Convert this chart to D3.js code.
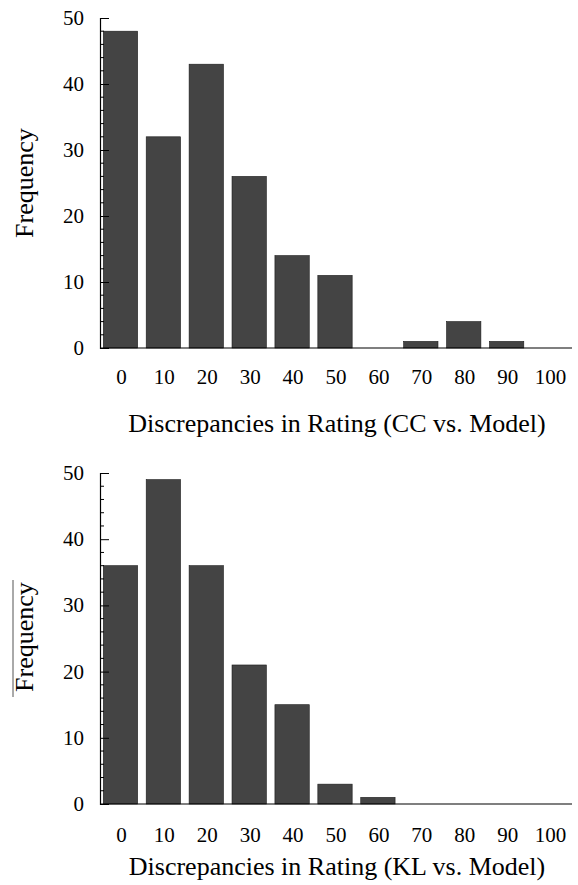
<!DOCTYPE html>
<html><head><meta charset="utf-8">
<script src="https://cdn.jsdelivr.net/npm/d3@7"></script>
<style>body{margin:0;background:#fff}svg{display:block}text{font-family:"Liberation Serif","Times New Roman",serif;fill:#000}</style>
</head><body><svg id="c" width="578" height="885"></svg>
<script>
const categories = ["0","10","20","30","40","50","60","70","80","90","100"];
const ccValues = [48,32,43,26,14,11,0,1,4,1,0];
const klValues = [36,49,36,21,15,3,1,0,0,0,0];
const yTicks = [0,10,20,30,40,50];
const titles = ["Discrepancies in Rating (CC vs. Model)","Discrepancies in Rating (KL vs. Model)"];
const yLabel = "Frequency";

const svg = d3.select("#c");
const panels = [
  {vals: ccValues, top: 18, bottom: 348, title: titles[0], tickY: 384, titleY: 432, labelY: 183, overline:false},
  {vals: klValues, top: 473, bottom: 804, title: titles[1], tickY: 842, titleY: 875, labelY: 637, overline:true}
];
const x = d3.scaleBand().domain(categories).range([100,572]).paddingInner(0.2).paddingOuter(0.1);

panels.forEach(p => {
  const y = d3.scaleLinear().domain([0,50]).range([p.bottom,p.top]);
  const g = svg.append("g");
  g.selectAll("rect").data(p.vals).enter().append("rect")
    .attr("x",(d,i)=>x(categories[i])-1).attr("width",x.bandwidth())
    .attr("y",d=>y(d)).attr("height",d=>y(0)-y(d))
    .attr("fill","#444").attr("stroke","#1a1a1a").attr("stroke-width",0.6);
  g.append("line").attr("x1",100).attr("x2",572).attr("y1",y(0)).attr("y2",y(0)).attr("stroke","#000").attr("stroke-width",1.2);
  const ax = d3.axisRight(y).tickValues(yTicks).tickSize(9).tickFormat("");
  const ag = g.append("g").attr("transform","translate(100,0)").call(ax);
  ag.select(".domain").attr("stroke","#000").attr("stroke-width",1.2);
  const minor = d3.range(0,51,2).filter(v=>v%10!==0);
  g.selectAll(".minor").data(minor).enter().append("line")
    .attr("x1",100).attr("x2",104).attr("y1",d=>y(d)).attr("y2",d=>y(d)).attr("stroke","#000").attr("stroke-width",1);
  g.selectAll(".yl").data(yTicks).enter().append("text")
    .attr("x",84).attr("y",d=>y(d)+7).attr("text-anchor","end").attr("font-size",21).text(d=>d);
  g.selectAll(".xl").data(categories).enter().append("text")
    .attr("x",d=>x(d)+x.bandwidth()/2).attr("y",p.tickY).attr("text-anchor","middle").attr("font-size",21).text(d=>d);
  g.append("text").attr("x",337).attr("y",p.titleY).attr("text-anchor","middle").attr("font-size",26).text(p.title);
  g.append("text").attr("transform",`translate(33,${p.labelY}) rotate(-90)`).attr("text-anchor","middle").attr("font-size",26).text(yLabel);
  if (p.overline) {
    g.append("line").attr("x1",13).attr("x2",13).attr("y1",p.labelY-57).attr("y2",p.labelY+60).attr("stroke","#555").attr("stroke-width",1);
  }
});
</script></body></html>
